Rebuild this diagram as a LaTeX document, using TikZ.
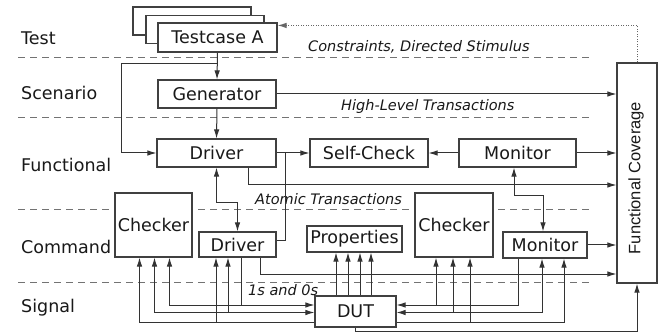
\documentclass[tikz,border=0pt]{standalone}
\usepackage{fontspec}
\setmainfont{DejaVu Sans}
\newfontfamily\fcfont{Liberation Sans}
\usetikzlibrary{arrows.meta,calc}
\begin{document}
\begin{tikzpicture}[x=1pt,y=-1pt,
  box/.style={draw=black!75, line width=1.1pt, fill=white, inner sep=0pt, text=black!90, font=\fontsize{17.5}{20}\selectfont},
  lane/.style={anchor=west, inner sep=0pt, text=black!90, font=\fontsize{17.5}{20}\selectfont},
  tag/.style={anchor=west, inner sep=0pt, text=black!90, font=\fontsize{14.5}{17}\selectfont\itshape},
  wire/.style={draw=black!80, line width=1pt},
  arr/.style={wire, -{Latex[length=9pt,width=5.5pt]}},
  arrboth/.style={wire, {Latex[length=9pt,width=5.5pt]}-{Latex[length=9pt,width=5.5pt]}},
  sep/.style={draw=black!55, line width=1pt, dash pattern=on 7pt off 5pt},
  dotarr/.style={draw=black!60, line width=1pt, dash pattern=on 1pt off 1.5pt, -{Latex[length=9pt,width=5.5pt]}},
]
\useasboundingbox (0,0) rectangle (662,334);
\fill[white] (0,0) rectangle (662,334);

% lane separators
\draw[sep] (18,58) -- (590,58);
\draw[sep] (18,118) -- (590,118);
\draw[sep] (18,210) -- (590,210);
\draw[sep] (18,282) -- (590,282);

% lane labels
\node[lane] (lTest) at (21,38) {Test};
\node[lane] (lScen) at (21,93) {Scenario};
\node[lane] (lFunc) at (21,165) {Functional};
\node[lane] (lCmd) at (21,247) {Command};
\node[lane] (lSig) at (21,308) {Signal};

% boxes
\node[box, minimum width=118, minimum height=28] (tc3) at (192,21) {};
\node[box, minimum width=118, minimum height=28] (tc2) at (205,29.5) {};
\node[box, minimum width=119, minimum height=29] (tc1) at (217.5,37.5) {Testcase A};
\node[box, minimum width=118, minimum height=28] (gen) at (217,94) {Generator};
\node[box, minimum width=119, minimum height=28] (drvF) at (216.5,153) {Driver};
\node[box, minimum width=118, minimum height=28] (sc) at (369,153) {Self-Check};
\node[box, minimum width=117, minimum height=28] (monF) at (517.5,153) {Monitor};
\node[box, minimum width=40, minimum height=220] (fc) at (637,173) {};
\node[rotate=90, inner sep=0pt, text=black!90, font=\fcfont\fontsize{16.5}{19}\selectfont] (fct) at (636,178) {Functional Coverage};
\node[box, minimum width=77, minimum height=64] (chkL) at (153.5,225) {Checker};
\node[box, minimum width=77, minimum height=25] (drvC) at (237.5,244.5) {Driver};
\node[box, minimum width=95, minimum height=26] (prop) at (354.5,239) {Properties};
\node[box, minimum width=78, minimum height=64] (chkR) at (454,225) {Checker};
\node[box, minimum width=84, minimum height=26] (monC) at (545,245) {Monitor};
\node[box, minimum width=81, minimum height=31] (dut) at (355.5,311.5) {DUT};

% flow labels
\node[tag] (tCons) at (308,47) {Constraints, Directed Stimulus};
\node[tag] (tHigh) at (341,107) {High-Level Transactions};
\node[tag] (tAtom) at (255,199) {Atomic Transactions};
\node[tag] (tBits) at (248,290) {1s and 0s};

% helper levels
\coordinate (y185) at (0,185);
\coordinate (y274) at (0,274);
\coordinate (y305) at (0,305);
\coordinate (y312) at (0,312.5);
\coordinate (y322) at (0,322);
\coordinate (y331) at (0,331);

% upper connectors
\draw[arr] (tc1.south) -- (gen.north);
\coordinate (j1) at ($(tc1.south)!0.39!(gen.north)$);
\draw[arr] (j1) -| ([xshift=-35pt]drvF.west) -- (drvF.west);
\draw[arr] (gen.south) -- (drvF.north);
\draw[arr] (gen.east) -- (fc.west |- gen.east);
\draw[dotarr] (fc.north) |- ([yshift=-3pt]tc1.north east);

\draw[arr] (drvF.east) -- (sc.west);
\coordinate (j2) at ([xshift=9pt]drvF.east);
\draw[wire] (j2) |- ([yshift=4pt]drvC.east);
\coordinate (dF) at ([xshift=31.5pt]drvF.south);
\draw[arr] (dF) |- (fc.west |- y185);
\draw[arrboth] (drvF.south) -- ++(0,35) -| (drvC.north);

\draw[arr] (monF.west) -- (sc.east);
\draw[arr] (monF.east) -- (fc.west |- monF.east);
\coordinate (mF) at ([xshift=-3.5pt]monF.south);
\coordinate (mCn) at ([xshift=-2pt]monC.north);
\draw[arrboth] (mF) -- ++(0,28) -| (mCn);
\draw[arr] (monC.east) -- (fc.west |- monC.east);

\coordinate (dLq) at ([xshift=22.5pt]drvC.south);
\draw[arr] (dLq) |- (fc.west |- y274);
\draw[arr] (dut.south) |- (fc.south |- y331) -- (fc.south);

% left signal wires
\coordinate (cLa) at ([xshift=-14pt]chkL.south);
\coordinate (cLb) at ([xshift=1pt]chkL.south);
\coordinate (cLc) at ([xshift=16pt]chkL.south);
\coordinate (dLa) at ([xshift=-21.5pt]drvC.south);
\coordinate (dLb) at ([xshift=-9.5pt]drvC.south);
\coordinate (dLo) at ([xshift=3.5pt]drvC.south);
\draw[arr] (dLo) |- (dut.west |- y305);
\draw[arr] (dLo |- y305) -| (cLc);
\draw[arrboth] (cLb) |- (dut.west |- y312);
\draw[arr] (dLb |- y312) -- (dLb);
\draw[arr] (dut.west |- y322) -| (cLa);
\draw[arr] (dLa |- y322) -- (dLa);

% right signal wires
\coordinate (mRo) at ([xshift=-27pt]monC.south);
\coordinate (mRb) at ([xshift=-3pt]monC.south);
\coordinate (mRa) at ([xshift=19pt]monC.south);
\coordinate (cRa) at ([xshift=-18pt]chkR.south);
\coordinate (cRb) at ([xshift=-1pt]chkR.south);
\coordinate (cRc) at ([xshift=16pt]chkR.south);
\draw[arr] (mRo) |- (dut.east |- y305);
\draw[arr] (cRa |- y305) -- (cRa);
\draw[arrboth] (mRb) |- (dut.east |- y312);
\draw[arr] (cRb |- y312) -- (cRb);
\draw[arr] (dut.east |- y322) -| (mRa);
\draw[arr] (cRc |- y322) -- (cRc);

% properties
\coordinate (p1) at ([xshift=-18.5pt]prop.south);
\coordinate (p2) at ([xshift=-6.5pt]prop.south);
\coordinate (p3) at ([xshift=5.5pt]prop.south);
\coordinate (p4) at ([xshift=16.5pt]prop.south);
\draw[arr] (p1 |- dut.north) -- (p1);
\draw[arr] (p2 |- dut.north) -- (p2);
\draw[arr] (p3 |- dut.north) -- (p3);
\draw[arr] (p4 |- dut.north) -- (p4);
\end{tikzpicture}
\end{document}
